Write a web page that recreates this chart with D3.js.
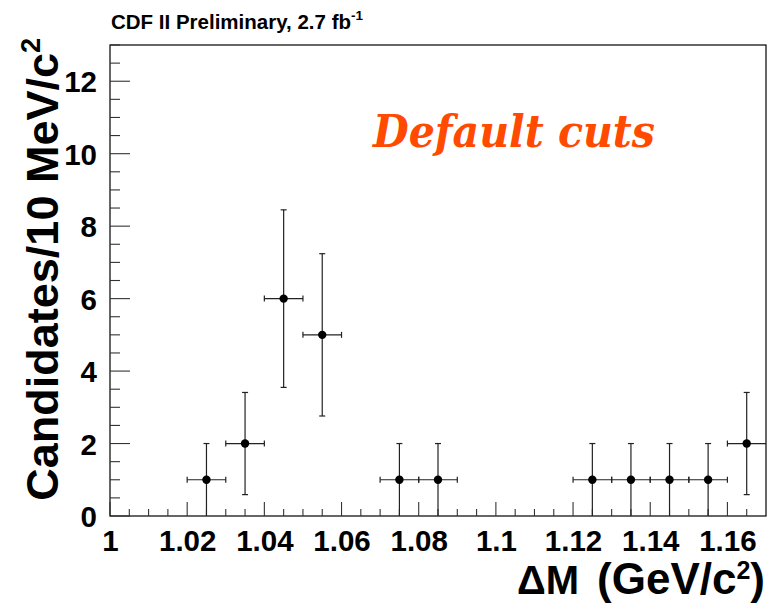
<!DOCTYPE html>
<html>
<head>
<meta charset="utf-8">
<script src="https://cdn.jsdelivr.net/npm/d3@7"></script>
<style>
  html, body { margin: 0; padding: 0; background: #fff; }
  svg { display: block; }
  text { font-family: "Liberation Sans", Arial, sans-serif; font-weight: bold; fill: #000; }
</style>
</head>
<body>
<svg id="chart" width="768" height="605"></svg>
<script>
// ---- data ----
const binCenters = [1.025, 1.035, 1.045, 1.055, 1.075, 1.085, 1.125, 1.135, 1.145, 1.155, 1.165];
const counts     = [1, 2, 6, 5, 1, 1, 1, 1, 1, 1, 2];
const errors     = [1, 1.41, 2.45, 2.24, 1, 1, 1, 1, 1, 1, 1.41];
const binWidth   = 0.01;
const xTickValues = [1, 1.02, 1.04, 1.06, 1.08, 1.1, 1.12, 1.14, 1.16];
const xTickLabels = ["1", "1.02", "1.04", "1.06", "1.08", "1.1", "1.12", "1.14", "1.16"];
const yTickValues = [0, 2, 4, 6, 8, 10, 12];
const xDomain = [1, 1.17];
const yDomain = [0, 13];

// ---- layout ----
const svg = d3.select("#chart");
const L = 110, R = 766, T = 45, B = 516;
const x = d3.scaleLinear().domain(xDomain).range([L, R]);
const y = d3.scaleLinear().domain(yDomain).range([B, T]);

// frame
svg.append("rect").attr("x", L).attr("y", T).attr("width", R - L).attr("height", B - T)
  .attr("fill", "none").attr("stroke", "#000").attr("stroke-width", 1.2);

// x minor ticks
const xMinor = d3.range(0, 35).map(i => 1 + i * 0.005).filter(v => v < 1.1699);
svg.append("g").selectAll("line").data(xMinor).join("line")
  .attr("x1", d => x(d)).attr("x2", d => x(d))
  .attr("y1", B).attr("y2", d => (Math.abs(((d - 1) / 0.02) - Math.round((d - 1) / 0.02)) < 1e-6) ? B - 14 : B - 7)
  .attr("stroke", "#333").attr("stroke-width", 1.1);

// y minor ticks
const yMinor = d3.range(0, 27).map(i => i * 0.5);
svg.append("g").selectAll("line").data(yMinor).join("line")
  .attr("y1", d => y(d)).attr("y2", d => y(d))
  .attr("x1", L).attr("x2", d => (d % 2 === 0) ? L + 20 : L + 10)
  .attr("stroke", "#333").attr("stroke-width", 1.1);

// x axis labels
const xAxis = d3.axisBottom(x).tickValues(xTickValues).tickSize(0).tickPadding(0)
  .tickFormat((d, i) => xTickLabels[i]);
const gx = svg.append("g").attr("transform", `translate(0,${B})`).call(xAxis);
gx.select(".domain").remove();
gx.selectAll("text").attr("y", 35).attr("dy", null)
  .style("font-size", "29.5px").style("font-family", "'Liberation Sans', Arial, sans-serif").style("font-weight", "bold").attr("fill", "#000");

// y axis labels
const yAxis = d3.axisLeft(y).tickValues(yTickValues).tickSize(0).tickPadding(13);
const gy = svg.append("g").attr("transform", `translate(${L},0)`).call(yAxis);
gy.select(".domain").remove();
gy.selectAll("text").attr("dy", "0.36em")
  .style("font-size", "29.5px").style("font-family", "'Liberation Sans', Arial, sans-serif").style("font-weight", "bold").attr("fill", "#000");

// data points with error bars
const pts = binCenters.map((c, i) => ({ c, n: counts[i], e: errors[i] }));
const g = svg.append("g");
const ebColor = "#222";
g.selectAll(".hbar").data(pts).join("line")
  .attr("x1", d => x(d.c - binWidth / 2)).attr("x2", d => Math.min(x(d.c + binWidth / 2), R))
  .attr("y1", d => y(d.n)).attr("y2", d => y(d.n))
  .attr("stroke", ebColor).attr("stroke-width", 1.2);
g.selectAll(".hcapL").data(pts).join("line")
  .attr("x1", d => x(d.c - binWidth / 2)).attr("x2", d => x(d.c - binWidth / 2))
  .attr("y1", d => y(d.n) - 3).attr("y2", d => y(d.n) + 3)
  .attr("stroke", ebColor).attr("stroke-width", 1.2);
g.selectAll(".hcapR").data(pts.filter(d => x(d.c + binWidth / 2) < R - 1)).join("line")
  .attr("x1", d => x(d.c + binWidth / 2)).attr("x2", d => x(d.c + binWidth / 2))
  .attr("y1", d => y(d.n) - 3).attr("y2", d => y(d.n) + 3)
  .attr("stroke", ebColor).attr("stroke-width", 1.2);
g.selectAll(".vbar").data(pts).join("line")
  .attr("x1", d => x(d.c)).attr("x2", d => x(d.c))
  .attr("y1", d => y(d.n + d.e)).attr("y2", d => y(Math.max(d.n - d.e, 0)))
  .attr("stroke", ebColor).attr("stroke-width", 1.2);
g.selectAll(".vcapT").data(pts).join("line")
  .attr("x1", d => x(d.c) - 3).attr("x2", d => x(d.c) + 3)
  .attr("y1", d => y(d.n + d.e)).attr("y2", d => y(d.n + d.e))
  .attr("stroke", ebColor).attr("stroke-width", 1.2);
g.selectAll(".vcapB").data(pts.filter(d => d.n - d.e > 0.01)).join("line")
  .attr("x1", d => x(d.c) - 3).attr("x2", d => x(d.c) + 3)
  .attr("y1", d => y(d.n - d.e)).attr("y2", d => y(d.n - d.e))
  .attr("stroke", ebColor).attr("stroke-width", 1.2);
g.selectAll("circle").data(pts).join("circle")
  .attr("cx", d => x(d.c)).attr("cy", d => y(d.n)).attr("r", 4.2).attr("fill", "#000");

// title
const title = svg.append("text").attr("x", 111).attr("y", 29).style("font-size", "20.5px");
title.append("tspan").text("CDF II Preliminary, 2.7 fb");
title.append("tspan").attr("dy", -9).style("font-size", "13.5px").text("-1");

// annotation
svg.append("text").attr("x", 373).attr("y", 147)
  .attr("textLength", 282).attr("lengthAdjust", "spacingAndGlyphs")
  .style("font-family", "'DejaVu Serif', serif").style("font-style", "italic").style("font-weight", "bold")
  .style("font-size", "45px").style("fill", "#FF4A00")
  .text("Default cuts");

// x title
const xt = svg.append("text").attr("x", 765).attr("y", 594).attr("text-anchor", "end").style("font-size", "44px");
xt.append("tspan").text("(GeV/c");
xt.append("tspan").attr("dy", -15).style("font-size", "25px").text("2");
xt.append("tspan").attr("dy", 15).text(")");
svg.append("text").attr("x", 517).attr("y", 594).style("font-size", "40px").text("\u0394M");

// y title
const yt = svg.append("text").attr("transform", "translate(58,38) rotate(-90)").attr("text-anchor", "end").style("font-size", "45px");
yt.append("tspan").text("Candidates/10 MeV/c");
yt.append("tspan").attr("dy", -18).style("font-size", "27px").text("2");
</script>
</body>
</html>
